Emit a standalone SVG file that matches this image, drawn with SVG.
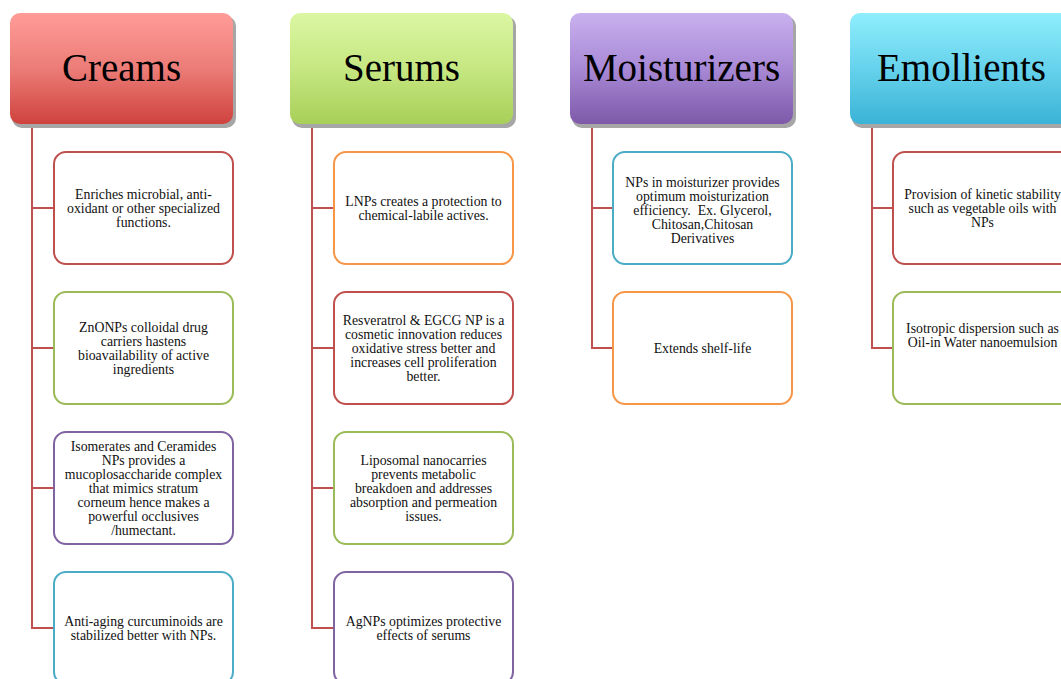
<svg xmlns="http://www.w3.org/2000/svg" width="1061" height="679" viewBox="0 0 1061 679">
<style>
.hdr{font-family:"Liberation Serif","Times New Roman",serif;font-size:39px;fill:#000;text-anchor:middle}
.txt{font-family:"Liberation Serif","Times New Roman",serif;font-size:13.8px;fill:#111;text-anchor:middle}
.shadow{fill:#A6A6A6}
.box{fill:#fff;stroke-width:2}
.red{stroke:#C0504D}.green{stroke:#9BBB59}.purple{stroke:#8064A2}.cyan{stroke:#4BACC6}.orange{stroke:#F79646}
.conn{fill:none;stroke:#C0504D;stroke-width:2}
</style>
<defs>
<linearGradient id="gRed" x1="0" y1="0" x2="0" y2="1"><stop offset="0" stop-color="#FF9C98"/><stop offset="0.5" stop-color="#EC7C77"/><stop offset="1" stop-color="#CF423E"/></linearGradient>
<linearGradient id="gGreen" x1="0" y1="0" x2="0" y2="1"><stop offset="0" stop-color="#DBF7A2"/><stop offset="0.5" stop-color="#C6E782"/><stop offset="1" stop-color="#A8CF58"/></linearGradient>
<linearGradient id="gPurple" x1="0" y1="0" x2="0" y2="1"><stop offset="0" stop-color="#C9B1EE"/><stop offset="0.5" stop-color="#A889D6"/><stop offset="1" stop-color="#7E59A9"/></linearGradient>
<linearGradient id="gCyan" x1="0" y1="0" x2="0" y2="1"><stop offset="0" stop-color="#8FEEFC"/><stop offset="0.5" stop-color="#66D2EC"/><stop offset="1" stop-color="#3AB3D6"/></linearGradient>
</defs>
<rect width="1061" height="679" fill="#fff"/>

<g id="connectors">
<path class="conn" d="M32 124 V208 H54"/><path class="conn" d="M32 124 V348 H54"/><path class="conn" d="M32 124 V488 H54"/><path class="conn" d="M32 124 V628 H54"/>
<path class="conn" d="M312 124 V208 H334"/><path class="conn" d="M312 124 V348 H334"/><path class="conn" d="M312 124 V488 H334"/><path class="conn" d="M312 124 V628 H334"/>
<path class="conn" d="M592 124 V208 H613"/><path class="conn" d="M592 124 V348 H613"/>
<path class="conn" d="M872 124 V208 H893"/><path class="conn" d="M872 124 V348 H893"/>
</g>

<g id="creams">
<rect class="shadow" x="12" y="16" width="224" height="112" rx="10"/>
<rect x="10" y="13" width="223" height="111" rx="10" fill="url(#gRed)"/>
<text class="hdr" x="121.5" y="81">Creams</text>
</g>
<g id="serums">
<rect class="shadow" x="292" y="16" width="224" height="112" rx="10"/>
<rect x="290" y="13" width="223" height="111" rx="10" fill="url(#gGreen)"/>
<text class="hdr" x="401.5" y="81">Serums</text>
</g>
<g id="moisturizers">
<rect class="shadow" x="572" y="16" width="224" height="112" rx="10"/>
<rect x="570" y="13" width="223" height="111" rx="10" fill="url(#gPurple)"/>
<text class="hdr" x="681.5" y="81">Moisturizers</text>
</g>
<g id="emollients">
<rect class="shadow" x="852" y="16" width="224" height="112" rx="10"/>
<rect x="850" y="13" width="223" height="111" rx="10" fill="url(#gCyan)"/>
<text class="hdr" x="961.5" y="81">Emollients</text>
</g>

<g id="creams-1">
<rect class="box red" x="54" y="152" width="179" height="112" rx="12"/>
<text class="txt" x="143.5" y="198.5"><tspan x="143.5">Enriches microbial, anti-</tspan><tspan x="143.5" dy="14">oxidant or other specialized</tspan><tspan x="143.5" dy="14">functions.</tspan></text>
</g>
<g id="creams-2">
<rect class="box green" x="54" y="292" width="179" height="112" rx="12"/>
<text class="txt" x="143.5" y="331.5"><tspan x="143.5">ZnONPs colloidal drug</tspan><tspan x="143.5" dy="14">carriers hastens</tspan><tspan x="143.5" dy="14">bioavailability of active</tspan><tspan x="143.5" dy="14">ingredients</tspan></text>
</g>
<g id="creams-3">
<rect class="box purple" x="54" y="432" width="179" height="112" rx="12"/>
<text class="txt" x="143.5" y="450.5"><tspan x="143.5">Isomerates and Ceramides</tspan><tspan x="143.5" dy="14">NPs provides a</tspan><tspan x="143.5" dy="14">mucoplosaccharide complex</tspan><tspan x="143.5" dy="14">that mimics stratum</tspan><tspan x="143.5" dy="14">corneum hence makes a</tspan><tspan x="143.5" dy="14">powerful occlusives</tspan><tspan x="143.5" dy="14">/humectant.</tspan></text>
</g>
<g id="creams-4">
<rect class="box cyan" x="54" y="572" width="179" height="112" rx="12"/>
<text class="txt" x="143.5" y="625.5"><tspan x="143.5">Anti-aging curcuminoids are</tspan><tspan x="143.5" dy="14">stabilized better with NPs.</tspan></text>
</g>

<g id="serums-1">
<rect class="box orange" x="334" y="152" width="179" height="112" rx="12"/>
<text class="txt" x="423.5" y="205.5"><tspan x="423.5">LNPs creates a protection to</tspan><tspan x="423.5" dy="14">chemical-labile actives.</tspan></text>
</g>
<g id="serums-2">
<rect class="box red" x="334" y="292" width="179" height="112" rx="12"/>
<text class="txt" x="423.5" y="324.5"><tspan x="423.5">Resveratrol &amp; EGCG NP is a</tspan><tspan x="423.5" dy="14">cosmetic innovation reduces</tspan><tspan x="423.5" dy="14">oxidative stress better and</tspan><tspan x="423.5" dy="14">increases cell proliferation</tspan><tspan x="423.5" dy="14">better.</tspan></text>
</g>
<g id="serums-3">
<rect class="box green" x="334" y="432" width="179" height="112" rx="12"/>
<text class="txt" x="423.5" y="464.5"><tspan x="423.5">Liposomal nanocarries</tspan><tspan x="423.5" dy="14">prevents metabolic</tspan><tspan x="423.5" dy="14">breakdoen and addresses</tspan><tspan x="423.5" dy="14">absorption and permeation</tspan><tspan x="423.5" dy="14">issues.</tspan></text>
</g>
<g id="serums-4">
<rect class="box purple" x="334" y="572" width="179" height="112" rx="12"/>
<text class="txt" x="423.5" y="625.5"><tspan x="423.5">AgNPs optimizes protective</tspan><tspan x="423.5" dy="14">effects of serums</tspan></text>
</g>

<g id="moisturizers-1">
<rect class="box cyan" x="613" y="152" width="179" height="112" rx="12"/>
<text class="txt" x="702.5" y="186.5"><tspan x="702.5">NPs in moisturizer provides</tspan><tspan x="702.5" dy="14">optimum moisturization</tspan><tspan x="702.5" dy="14" xml:space="preserve">efficiency.  Ex. Glycerol,</tspan><tspan x="702.5" dy="14">Chitosan,Chitosan</tspan><tspan x="702.5" dy="14">Derivatives</tspan></text>
</g>
<g id="moisturizers-2">
<rect class="box orange" x="613" y="292" width="179" height="112" rx="12"/>
<text class="txt" x="702.5" y="352.5">Extends shelf-life</text>
</g>

<g id="emollients-1">
<rect class="box red" x="893" y="152" width="179" height="112" rx="12"/>
<text class="txt" x="982.5" y="198.5"><tspan x="982.5">Provision of kinetic stability</tspan><tspan x="982.5" dy="14">such as vegetable oils with</tspan><tspan x="982.5" dy="14">NPs</tspan></text>
</g>
<g id="emollients-2">
<rect class="box green" x="893" y="292" width="179" height="112" rx="12"/>
<text class="txt" x="982.5" y="332.5"><tspan x="982.5">Isotropic dispersion such as</tspan><tspan x="982.5" dy="14">Oil-in Water nanoemulsion</tspan></text>
</g>
</svg>
